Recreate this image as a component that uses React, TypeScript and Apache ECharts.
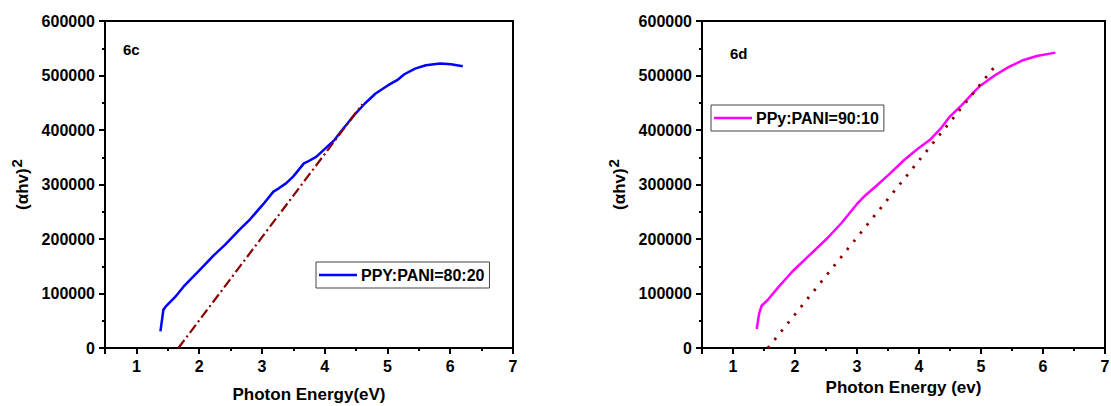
import React, { useEffect, useRef } from 'react';
import * as echarts from 'echarts';

// Panel 6c (PPY:PANI = 80:20)
const energyC = [1.383, 1.43, 1.469, 1.611, 1.754, 2.011, 2.24, 2.411, 2.64, 2.811, 3.011, 3.183, 3.269, 3.383, 3.497, 3.669, 3.726, 3.869, 4.011, 4.154, 4.297, 4.469, 4.64, 4.811, 5.011, 5.154, 5.269, 5.44, 5.611, 5.84, 6.011, 6.2];
const absC = [30500, 70200, 76300, 92800, 113000, 143400, 171000, 189200, 216700, 236200, 262500, 286900, 293000, 302100, 314400, 338800, 341800, 351000, 366200, 381500, 402800, 427200, 448600, 467000, 482200, 491400, 502300, 512700, 518800, 521900, 520700, 517000];
const fitCX = [1.669, 4.6];
const fitCY = [0, 447400];

// Panel 6d (PPy:PANI = 90:10)
const energyD = [1.383, 1.423, 1.462, 1.563, 1.732, 1.958, 2.183, 2.521, 2.746, 3.0, 3.141, 3.31, 3.535, 3.761, 3.986, 4.183, 4.352, 4.493, 4.69, 4.887, 5.0, 5.225, 5.451, 5.676, 5.901, 6.2];
const absD = [34800, 64100, 77500, 88500, 111700, 140400, 164800, 201400, 228900, 264300, 280800, 297300, 320400, 344900, 366200, 382700, 402800, 424200, 445600, 470000, 482200, 500500, 515800, 528000, 535900, 542000];
const fitDX = [1.563, 5.225];
const fitDY = [0, 517000];

const seriesNameC = 'PPY:PANI=80:20';
const seriesNameD = 'PPy:PANI=90:10';
const xTitleC = 'Photon Energy(eV)';
const xTitleD = 'Photon Energy (ev)';
const yTitle = '(αhv){sup|2}';
const panelC = '6c';
const panelD = '6d';

const zip = (xs: number[], ys: number[]) => xs.map((x, i) => [x, ys[i]]);

export default function App() {
  const ref = useRef<HTMLDivElement>(null);
  useEffect(() => {
    const chart = echarts.init(ref.current!, null, { renderer: 'svg' });
    const font = "'Liberation Sans', Arial, sans-serif";
    const axisLineStyle = { color: '#000', width: 2 };
    const labelStyle = { fontFamily: font, fontWeight: 700, fontSize: 16, color: '#000', margin: 10 };
    const xAxis = (gridIndex: number, title: string, gap: number) => ({
      type: 'value',
      gridIndex,
      min: 0.5,
      max: 7,
      minInterval: 1,
      maxInterval: 1,
      name: title,
      nameLocation: 'middle',
      nameGap: gap,
      nameTextStyle: { fontFamily: font, fontWeight: 700, fontSize: 17, color: '#000' },
      axisLine: { show: true, onZero: false, lineStyle: axisLineStyle },
      axisTick: { show: true, inside: false, length: 6, lineStyle: axisLineStyle },
      minorTick: { show: true, splitNumber: 2, length: 3, lineStyle: axisLineStyle },
      axisLabel: {
        ...labelStyle,
        formatter: (v: number) => (Number.isInteger(v) ? String(v) : ''),
      },
      splitLine: { show: false },
      minorSplitLine: { show: false },
    });
    const yAxis = (gridIndex: number, gap: number) => ({
      type: 'value',
      gridIndex,
      min: 0,
      max: 600000,
      interval: 100000,
      name: yTitle,
      nameLocation: 'middle',
      nameGap: gap,
      nameTextStyle: {
        fontFamily: font, fontWeight: 700, fontSize: 17, color: '#000',
        rich: { sup: { fontFamily: font, fontWeight: 700, fontSize: 15, color: '#000', padding: [0, 0, 11, 1] } },
      },
      axisLine: { show: true, onZero: false, lineStyle: axisLineStyle },
      axisTick: { show: true, inside: false, length: 6, lineStyle: axisLineStyle },
      minorTick: { show: true, splitNumber: 2, length: 3, lineStyle: axisLineStyle },
      axisLabel: { ...labelStyle, formatter: (v: number) => String(v) },
      splitLine: { show: false },
      minorSplitLine: { show: false },
    });
    const legend = (name: string, left: number, top: number) => ({
      data: [name],
      left,
      top,
      orient: 'vertical',
      icon: 'rect',
      padding: [5, 5, 5, 3],
      itemWidth: 38,
      itemHeight: 2.5,
      itemGap: 4,
      borderColor: '#444',
      borderWidth: 1,
      borderRadius: 0,
      backgroundColor: '#fff',
      textStyle: { fontFamily: font, fontWeight: 700, fontSize: 16, color: '#000', padding: [0, 0, 0, -1] },
    });
    const gridBase = {
      top: 21, height: 327, show: true, borderColor: '#000', borderWidth: 2,
      backgroundColor: 'transparent', containLabel: false, outerBoundsMode: 'none',
    };
    chart.setOption({
      animation: false,
      backgroundColor: '#fff',
      textStyle: { fontFamily: font, fontWeight: 700, color: '#000' },
      grid: [
        { ...gridBase, left: 105, width: 408 },
        { ...gridBase, left: 702, width: 403 },
      ],
      xAxis: [xAxis(0, xTitleC, 38), xAxis(1, xTitleD, 30)],
      yAxis: [yAxis(0, 70), yAxis(1, 70)],
      legend: [legend(seriesNameC, 316, 262), legend(seriesNameD, 711, 105)],
      graphic: [
        { type: 'text', left: 123, top: 42, style: { text: panelC, fontFamily: font, fontWeight: 700, fontSize: 15, fill: '#000' } },
        { type: 'text', left: 730, top: 46, style: { text: panelD, fontFamily: font, fontWeight: 700, fontSize: 15, fill: '#000' } },
      ],
      series: [
        {
          name: seriesNameC, type: 'line', xAxisIndex: 0, yAxisIndex: 0, showSymbol: false, symbol: 'none',
          data: zip(energyC, absC), lineStyle: { color: '#0000ff', width: 2.5 }, itemStyle: { color: '#0000ff' },
        },
        {
          name: 'fitC', type: 'line', xAxisIndex: 0, yAxisIndex: 0, symbol: 'none',
          data: zip(fitCX, fitCY), lineStyle: { color: '#8b0000', width: 2.2, type: [10, 3.5, 2, 3.5] },
        },
        {
          name: seriesNameD, type: 'line', xAxisIndex: 1, yAxisIndex: 1, showSymbol: false, symbol: 'none',
          data: zip(energyD, absD), lineStyle: { color: '#ff00ff', width: 2.5 }, itemStyle: { color: '#ff00ff' },
        },
        {
          name: 'fitD', type: 'line', xAxisIndex: 1, yAxisIndex: 1, symbol: 'none',
          data: zip(fitDX, fitDY), lineStyle: { color: '#8b0000', width: 2.8, type: [2.5, 8] },
        },
      ],
    });
    return () => chart.dispose();
  }, []);
  return <div ref={ref} style={{ position: 'absolute', left: 0, top: 0, width: 1111, height: 406 }} />;
}
